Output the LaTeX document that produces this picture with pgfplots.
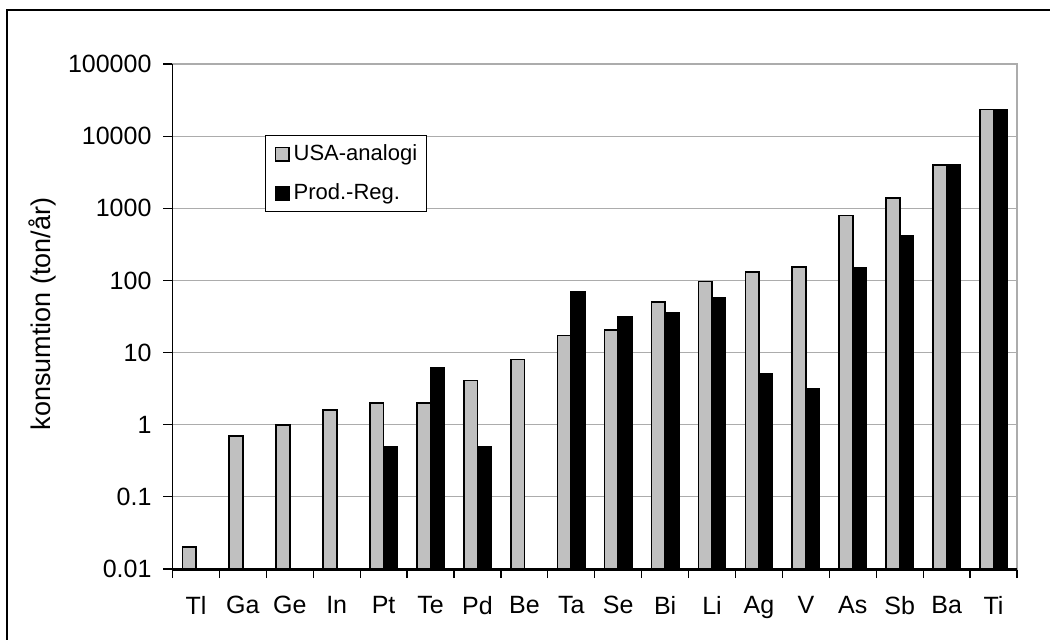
\documentclass[border=0pt]{standalone}
\usepackage{fontspec}
\setmainfont{Liberation Sans}
\usepackage{pgfplots}
\pgfplotsset{compat=1.18}
\definecolor{barsilver}{HTML}{C0C0C0}
\definecolor{gridgray}{HTML}{ACACAC}
\newcommand{\axisfont}{\fontsize{12.5pt}{15pt}\selectfont}
\newcommand{\labfont}{\fontsize{13.5pt}{16pt}\selectfont}
\newcommand{\legfont}{\fontsize{11pt}{13pt}\selectfont}

\begin{document}
\begin{tikzpicture}
\path[use as bounding box] (-86.25pt,-35pt) rectangle (438.75pt,284.5pt);
% outer frame (left and top edges)
\draw[line width=1pt] (-82.75pt,-36pt) -- (-82.75pt,279.5pt) -- (440pt,279.5pt);
\begin{axis}[
  scale only axis, width=422.25pt, height=252.5pt,
  ymode=log, ymin=0.01, ymax=100000, log origin=infty,
  xmin=-0.5, xmax=17.5,
  ybar, bar width=0.29,
  /pgf/number format/assume math mode=true,
  tick label style={font=\axisfont},
  ytick={0.01,0.1,1,10,100,1000,10000,100000},
  yticklabels={0.01,0.1,1,10,100,1000,10000,100000},
  yminorticks=false,
  ymajorgrids, major grid style={draw=gridgray, line width=0.6pt},
  xtick={-0.5,0.5,...,17.5}, xticklabels={},
  extra x ticks={0,1,...,17},
  extra x tick labels={Tl,Ga,Ge,In,Pt,Te,Pd,Be,Ta,Se,Bi,Li,Ag,V,As,Sb,Ba,Ti},
  extra x tick style={major tick length=0pt, tick style={draw=none},
    xticklabel style={font=\axisfont, yshift=-10pt}},
  tick align=outside, major tick length=4.5pt,
  xtick pos=bottom, ytick pos=left,
  tick style={black, line width=0.6pt},
  yticklabel style={xshift=-2.5pt},
  axis line style={draw=gridgray, line width=0.6pt},
  ylabel={konsumtion (ton/år)},
  ylabel style={at={(axis description cs:-0.154,0.505)}, anchor=center, font=\labfont},
  legend style={at={(0.1095,0.859)}, anchor=north west, draw=black,
    line width=0.6pt, fill=white, font=\legfont,
    inner xsep=2.5pt, inner ysep=2.5pt, row sep=6pt},
  legend cell align=left,
  legend image code/.code={\path (0pt,0pt);
    \draw[#1,line width=0.7pt] (2pt,-3.4pt) rectangle (8.8pt,3.4pt);},
  after end axis/.code={
    \draw[black,line width=0.8pt] (rel axis cs:0,0) -- (rel axis cs:0,1);
    \draw[black,line width=1.5pt] (rel axis cs:0,0) -- (rel axis cs:1,0);
  },
]
% USA-analogi
\addplot[draw=black, line width=0.8pt, fill=barsilver, bar shift=-0.145] coordinates {
  (0,0.02) (1,0.7) (2,1.0) (3,1.6) (4,2.0) (5,2.0) (6,4.1) (7,8.0) (8,17.3)
  (9,20.5) (10,50) (11,97) (12,130) (13,155) (14,790) (15,1400) (16,4000) (17,23500)
};
% Prod.-Reg.
\addplot[draw=black, line width=0.8pt, fill=black, bar shift=0.145] coordinates {
  (4,0.5) (5,6.1) (6,0.5) (8,70) (9,31) (10,36) (11,57) (12,5.1) (13,3.1)
  (14,150) (15,410) (16,4000) (17,23500)
};
\legend{USA-analogi,Prod.-Reg.}
\end{axis}
\end{tikzpicture}
\end{document}
